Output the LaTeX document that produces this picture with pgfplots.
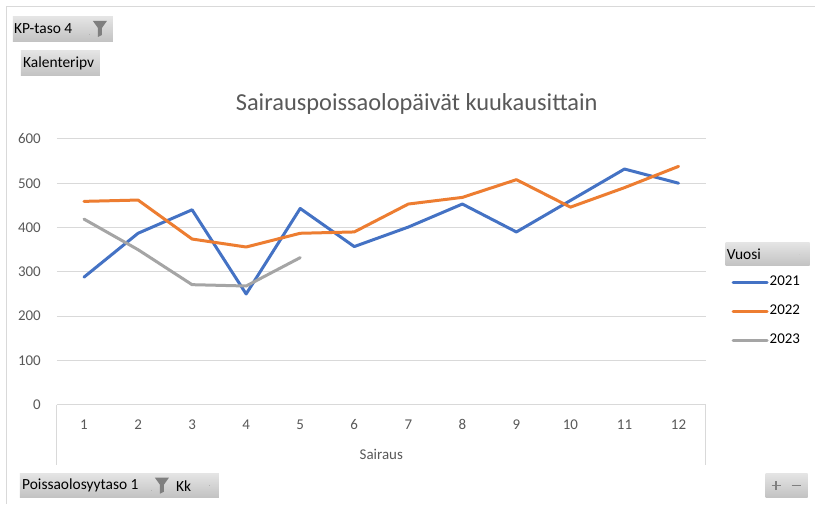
\documentclass[border=0pt]{standalone}
\usepackage{pgfplots}
\pgfplotsset{compat=1.18}
\usepackage{fontspec}
\setmainfont{Carlito}
\definecolor{c21}{HTML}{4472C4}
\definecolor{c22}{HTML}{ED7D31}
\definecolor{c23}{HTML}{A5A5A5}
\definecolor{txt}{HTML}{595959}
\definecolor{gridc}{HTML}{D9D9D9}
\definecolor{btop}{HTML}{E4E4E4}
\definecolor{bbot}{HTML}{C2C2C2}
\definecolor{funnel}{HTML}{7F7F7F}
\newcommand{\fs}{\fontsize{15}{18}\selectfont}
\newcommand{\fb}{\fontsize{15.5}{18}\selectfont}
\begin{document}
\begin{tikzpicture}[x=1bp,y=1bp]
\path[fill=white] (0,0) rectangle (815,504);
\draw[gridc, line width=1bp] (7,0) -- (7,497) -- (815,497);
% buttons
\shade[top color=btop, bottom color=bbot] (13,462) rectangle (113,487);
\node[anchor=west, inner sep=0, font=\fb] at (14,475) {KP-taso 4};
\fill[funnel!60] (89.5,468.5) rectangle (90.5,469.5);
\fill[funnel] (93,483) -- (107,483) -- (102,476) -- (102,469) -- (98,467) -- (98,476) -- cycle;
\shade[top color=btop, bottom color=bbot] (21,428) rectangle (100,453);
\node[anchor=west, inner sep=0, font=\fb] at (23,441) {Kalenteripv};
\shade[top color=btop, bottom color=bbot] (20,6) rectangle (219,30);
\node[anchor=west, inner sep=0, font=\fb] at (22,18) {Poissaolosyytaso 1};
\fill[funnel!60] (151.5,12.5) rectangle (152.5,13.5);
\fill[funnel] (155,26) -- (169,26) -- (164,19) -- (164,12) -- (160,10) -- (160,19) -- cycle;
\node[anchor=west, inner sep=0, font=\fb] at (176,18) {Kk};
\fill[funnel!60] (209.5,17.5) rectangle (210.5,18.5);
\shade[top color=btop, bottom color=bbot] (766,6) rectangle (808,30);
\draw[funnel, line width=1.5bp] (772,18) -- (781,18) (776.5,13.5) -- (776.5,22.5);
\draw[funnel, line width=1.5bp] (792,18) -- (801,18);
\shade[top color=btop, bottom color=bbot] (726,238) rectangle (810,261);
\node[anchor=west, inner sep=0, font=\fb] at (727,249.5) {Vuosi};
\fill[funnel!40] (799.5,248.5) rectangle (800.5,249.5);
% title
\node[font=\fontsize{24.5}{28}\selectfont, text=txt] at (417,400) {Sairauspoissaolopäivät kuukausittain};
\begin{axis}[
  at={(57bp,99bp)}, anchor=south west,
  scale only axis, width=649bp, height=266bp,
  xmin=0.5, xmax=12.5, ymin=0, ymax=600,
  xtick={1,...,12}, ytick={0,100,...,600},
  axis line style={draw=none},
  major tick length=0pt,
  /pgf/number format/assume math mode=true,
  ymajorgrids, grid style={gridc, line width=1bp},
  tick label style={font=\fs, text=txt},
  xticklabel style={anchor=center, yshift=-20bp},
  yticklabel style={anchor=east, inner sep=0pt, xshift=-16bp},
  xlabel={Sairaus},
  xlabel style={font=\fs, text=txt, anchor=center, at={(axis description cs:0.5,-0.188)}},
  clip=false,
  legend style={at={(axis description cs:1.040,0.490)}, anchor=north west, draw=none, fill=none,
    font=\fs, row sep=14bp, inner sep=0pt,
    nodes={inner sep=1pt, text height=10bp, text depth=3bp}},
  legend cell align=left,
  legend image code/.code={\draw[#1] (0bp,0bp) -- (34bp,0bp);},
  every axis plot/.append style={line width=3bp, line cap=round, line join=round},
]
\draw[gridc, line width=1bp] (axis cs:0.5,0) -- ([yshift=-60bp]axis cs:0.5,0);
\draw[gridc, line width=1bp] (axis cs:12.5,0) -- ([yshift=-60bp]axis cs:12.5,0);
\addplot[c21] coordinates {(1,288) (2,387) (3,440) (4,250) (5,443) (6,357) (7,401) (8,453) (9,390) (10,461) (11,532) (12,500)};
\addplot[c22] coordinates {(1,459) (2,462) (3,374) (4,356) (5,387) (6,390) (7,453) (8,468) (9,508) (10,446) (11,490) (12,538)};
\addplot[c23] coordinates {(1,419) (2,350) (3,271) (4,268) (5,332)};
\legend{2021,2022,2023}
\end{axis}
\end{tikzpicture}
\end{document}
